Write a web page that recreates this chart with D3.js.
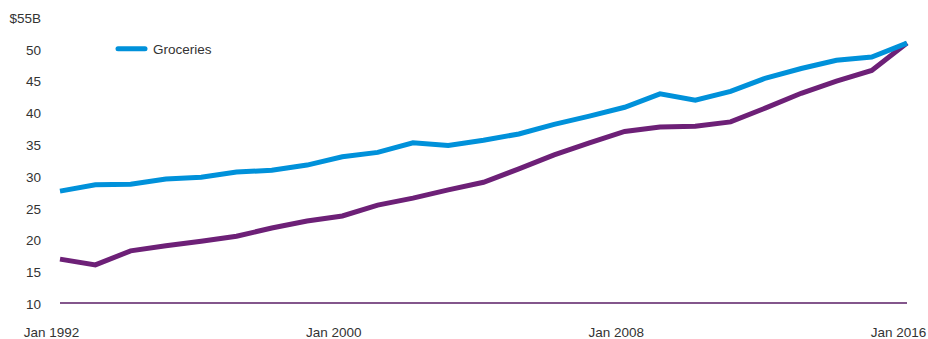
<!DOCTYPE html>
<meta charset="utf-8">
<style>
body { margin: 0; background: #fff; }
text { font-family: "Liberation Sans", Arial, sans-serif; fill: #333; }
</style>
<body>
<script src="https://cdn.jsdelivr.net/npm/d3@7"></script>
<script>

// yearly values, Jan of each year, in $ billions
var years = [1992,1993,1994,1995,1996,1997,1998,1999,2000,2001,2002,2003,2004,
             2005,2006,2007,2008,2009,2010,2011,2012,2013,2014,2015,2016];
var groceries = [27.6,28.6,28.7,29.5,29.8,30.6,30.9,31.7,33.0,33.7,35.2,34.8,35.6,
                 36.6,38.1,39.4,40.8,42.9,41.9,43.3,45.4,46.9,48.2,48.7,50.9];
var restaurants = [16.9,16.0,18.2,19.0,19.7,20.5,21.8,22.9,23.7,25.4,26.5,27.8,29.0,
                   31.1,33.3,35.2,37.0,37.7,37.8,38.5,40.7,43.0,44.9,46.6,50.9];
var yTicks = [10,15,20,25,30,35,40,45,50,55];
var xTicks = [1992,2000,2008,2016];

var margin = {top: 17, right: 21, bottom: 36, left: 60},
    width = 928 - margin.left - margin.right,
    height = 339 - margin.top - margin.bottom;

var svg = d3.select("body").append("svg")
    .attr("width", 928)
    .attr("height", 339)
  .append("g")
    .attr("transform", "translate(" + margin.left + "," + margin.top + ")");

var x = d3.scaleTime()
    .domain([new Date(1992, 0, 1), new Date(2016, 0, 1)])
    .range([0, width]);

var y = d3.scaleLinear()
    .domain([10, 55])
    .range([height, 0]);

// y axis labels only
var yAxis = svg.append("g")
    .call(d3.axisLeft(y).tickValues(yTicks).tickSize(0).tickPadding(19)
      .tickFormat(function(d) { return d == 55 ? "$55B" : d; }));
yAxis.select(".domain").remove();
yAxis.selectAll("text").style("font-size", "13.5px").attr("fill", "#333").attr("dy", "0.4em");

// x axis labels
var xAxis = svg.append("g")
    .attr("transform", "translate(0," + height + ")")
    .call(d3.axisBottom(x).tickValues(xTicks.map(function(d) { return new Date(d, 0, 1); }))
      .tickSize(0).tickPadding(24)
      .tickFormat(function(d) { return "Jan " + d.getFullYear(); }));
xAxis.select(".domain").remove();
xAxis.selectAll("text").style("font-size", "13.5px").attr("fill", "#333").attr("dx", -9);

// baseline
svg.append("line")
    .attr("x1", 0).attr("x2", width)
    .attr("y1", y(10)).attr("y2", y(10))
    .attr("stroke", "#5a1e66")
    .attr("stroke-width", 1.5);

var line = function(vals) {
  return d3.line()
    .x(function(d, i) { return x(new Date(years[i], 0, 1)); })
    .y(function(d) { return y(d); })(vals);
};

svg.append("path")
    .attr("d", line(restaurants))
    .attr("fill", "none")
    .attr("stroke", "#6d2077")
    .attr("stroke-width", 5);

svg.append("path")
    .attr("d", line(groceries))
    .attr("fill", "none")
    .attr("stroke", "#0091da")
    .attr("stroke-width", 5);

// legend
var legend = svg.append("g").attr("transform", "translate(58," + y(50) + ")");
legend.append("line")
    .attr("x1", 0).attr("x2", 27)
    .attr("stroke", "#0091da")
    .attr("stroke-width", 5)
    .attr("stroke-linecap", "round");
legend.append("text")
    .attr("x", 35).attr("y", 5)
    .style("font-size", "13.5px")
    .text("Groceries");

</script>
</body>
